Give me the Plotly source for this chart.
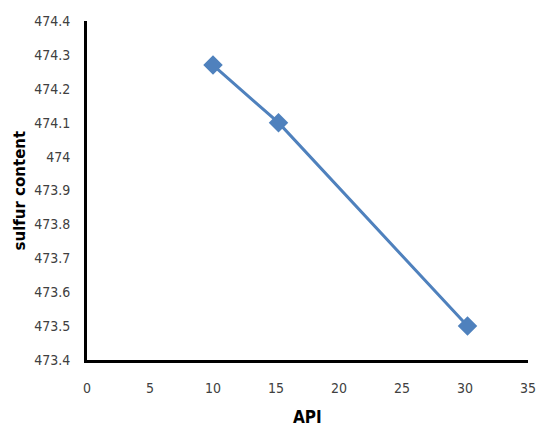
import plotly.graph_objects as go

api = [10, 15.2, 30.2]
sulfur = [474.27, 474.1, 473.5]
x_ticks = [0, 5, 10, 15, 20, 25, 30, 35]
y_ticks = [473.4, 473.5, 473.6, 473.7, 473.8, 473.9, 474, 474.1, 474.2, 474.3, 474.4]
y_tick_text = ["473.4", "473.5", "473.6", "473.7", "473.8", "473.9", "474", "474.1", "474.2", "474.3", "474.4"]

fig = go.Figure()
fig.add_trace(go.Scatter(
    x=api, y=sulfur, mode="lines+markers",
    line=dict(color="#4F81BD", width=3),
    marker=dict(symbol="diamond", size=15, color="#4F81BD"),
    showlegend=False, cliponaxis=False,
))

tickfont = dict(family="DejaVu Sans Condensed, sans-serif", size=14, color="#404040")
fig.update_layout(
    width=538, height=420,
    margin=dict(l=79, r=18, t=13, b=68),
    paper_bgcolor="white", plot_bgcolor="white",
    xaxis=dict(
        range=[0, 35], tickvals=x_ticks, showgrid=False, zeroline=False,
        showline=True, linecolor="black", linewidth=3, automargin=False,
        ticks="", tickfont=tickfont, ticklabelstandoff=13,
    ),
    yaxis=dict(
        range=[473.4, 474.4], tickvals=y_ticks, ticktext=y_tick_text,
        showgrid=False, zeroline=False, automargin=False,
        showline=True, linecolor="black", linewidth=3,
        ticks="", tickfont=tickfont, ticklabelstandoff=11,
    ),
    annotations=[
        dict(text="<b>API</b>", xref="paper", yref="paper", x=0.5, y=-0.168,
             xanchor="center", yanchor="middle", showarrow=False,
             font=dict(family="DejaVu Sans Condensed, sans-serif", size=17, color="black")),
        dict(text="<b>sulfur content</b>", xref="paper", yref="paper", x=-0.152, y=0.5,
             xanchor="center", yanchor="middle", showarrow=False, textangle=-90,
             font=dict(family="DejaVu Sans, sans-serif", size=15, color="black")),
    ],
)
fig.write_html("out.html")
